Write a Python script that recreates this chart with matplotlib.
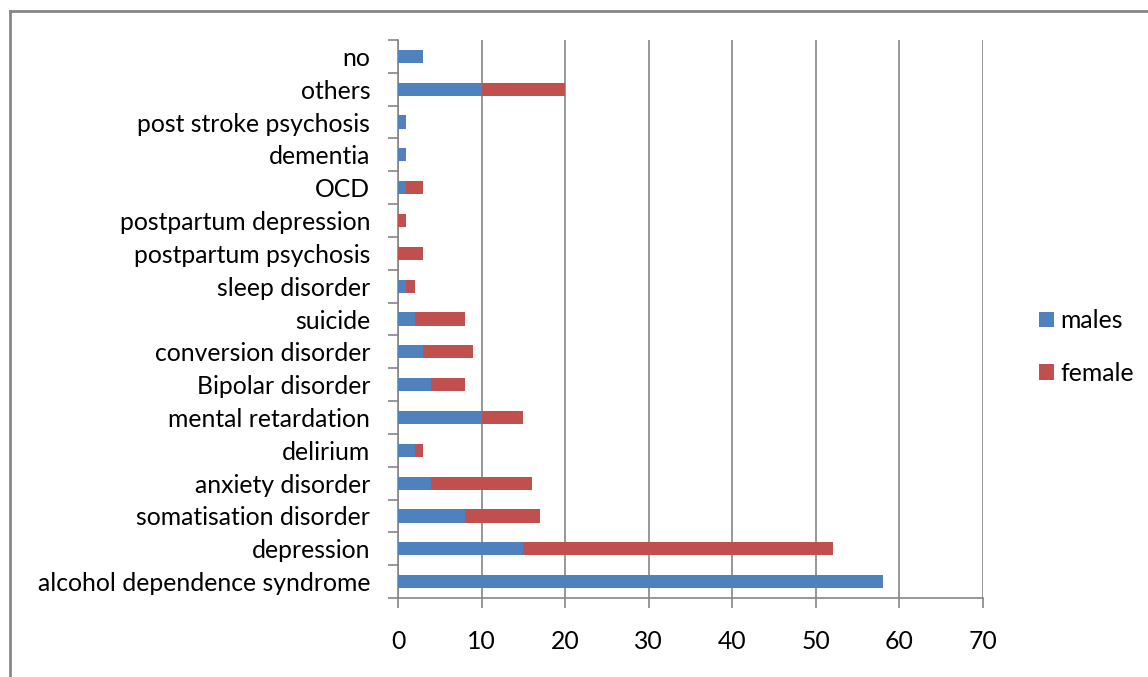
import numpy as np
import matplotlib.pyplot as plt
from matplotlib.lines import Line2D

# diagnoses, bottom to top
categories = ['alcohol dependence syndrome', 'depression', 'somatisation disorder',
              'anxiety disorder', 'delirium', 'mental retardation', 'Bipolar disorder',
              'conversion disorder', 'suicide', 'sleep disorder', 'postpartum psychosis',
              'postpartum depression', 'OCD', 'dementia', 'post stroke psychosis',
              'others', 'no']
males = [58, 15, 8, 4, 2, 10, 4, 3, 2, 1, 0, 0, 1, 1, 1, 10, 3]
female = [0, 37, 9, 12, 1, 5, 4, 6, 6, 1, 3, 1, 2, 0, 0, 10, 0]
xticks = [0, 10, 20, 30, 40, 50, 60, 70]

plt.rcParams['font.family'] = ['Lato', 'DejaVu Sans']
blue = '#4f81bd'
red = '#c0504d'
grey = '#868686'
fs = 17.8

fig = plt.figure(figsize=(11.48, 6.77), dpi=100)
ax = fig.add_axes([398/1148, 1-598/677, (983-398)/1148, (598-40)/677])

y = np.arange(len(categories))
ax.barh(y, males, height=0.4, color=blue, label='males', zorder=3)
ax.barh(y, female, height=0.4, left=males, color=red, label='female', zorder=3)

ax.set_xlim(0, 70)
ax.set_ylim(-0.5, len(categories) - 0.5)
ax.set_xticks(xticks)
ax.set_yticks(y)
ax.set_yticklabels(categories)
ax.set_yticks(np.arange(len(categories) + 1) - 0.5, minor=True)
ax.tick_params(axis='y', which='major', length=0, pad=20, labelsize=fs)
ax.tick_params(axis='y', which='minor', length=7, width=1.2, color=grey)
ax.tick_params(axis='x', length=7, width=1.2, color=grey, pad=16, labelsize=fs)
ax.xaxis.grid(True, color=grey, linewidth=1.2, zorder=0)

for side in ['top', 'right']:
    ax.spines[side].set_visible(False)
for side in ['left', 'bottom']:
    ax.spines[side].set_color(grey)
    ax.spines[side].set_linewidth(1.2)

ax.legend(loc='center left', bbox_to_anchor=(1029/1148, 1-347/677),
          bbox_transform=fig.transFigure, frameon=False, borderaxespad=0,
          fontsize=fs, handlelength=0.6, handleheight=0.6, labelspacing=1.2,
          handletextpad=0.25)

# outer chart frame
fig.add_artist(Line2D([9.5/1148, 9.5/1148], [0, 1-11/677], color=grey, linewidth=2,
                      transform=fig.transFigure))
fig.add_artist(Line2D([9.5/1148, 1], [1-11/677, 1-11/677], color=grey, linewidth=2,
                      transform=fig.transFigure))

fig.savefig('out.png', dpi=100)
